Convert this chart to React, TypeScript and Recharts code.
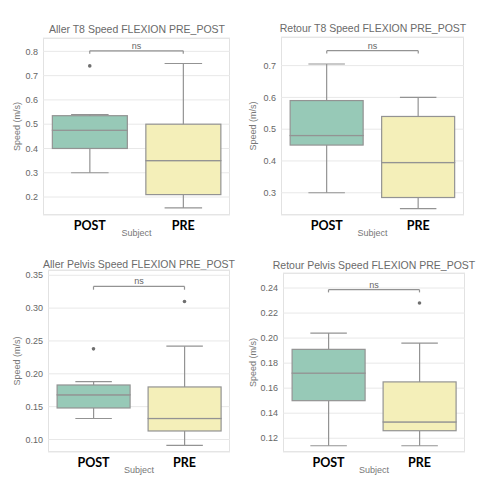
import React from 'react';
import { ComposedChart, Bar, Line, XAxis, YAxis, CartesianGrid, ReferenceLine } from 'recharts';

const subjects = ['POST', 'PRE'];

// Aller T8
const allerT8Low = [0.3, 0.155];
const allerT8Q1 = [0.4, 0.21];
const allerT8Median = [0.475, 0.35];
const allerT8Q3 = [0.535, 0.5];
const allerT8High = [0.54, 0.75];
const allerT8Outliers = [0.74, null];
const allerT8Ticks = [0.2, 0.3, 0.4, 0.5, 0.6, 0.7, 0.8];

// Retour T8
const retourT8Low = [0.3, 0.25];
const retourT8Q1 = [0.45, 0.285];
const retourT8Median = [0.48, 0.395];
const retourT8Q3 = [0.59, 0.54];
const retourT8High = [0.705, 0.6];
const retourT8Outliers = [null, null];
const retourT8Ticks = [0.3, 0.4, 0.5, 0.6, 0.7];

// Aller Pelvis
const allerPelvisLow = [0.132, 0.091];
const allerPelvisQ1 = [0.148, 0.113];
const allerPelvisMedian = [0.168, 0.132];
const allerPelvisQ3 = [0.183, 0.18];
const allerPelvisHigh = [0.188, 0.242];
const allerPelvisOutliers = [0.238, 0.31];
const allerPelvisTicks = [0.1, 0.15, 0.2, 0.25, 0.3, 0.35];

// Retour Pelvis
const retourPelvisLow = [0.114, 0.114];
const retourPelvisQ1 = [0.15, 0.126];
const retourPelvisMedian = [0.172, 0.133];
const retourPelvisQ3 = [0.191, 0.165];
const retourPelvisHigh = [0.204, 0.196];
const retourPelvisOutliers = [null, 0.228];
const retourPelvisTicks = [0.12, 0.14, 0.16, 0.18, 0.2, 0.22, 0.24];

const FILLS: Record<string, string> = { POST: '#97c9b7', PRE: '#f4efb9' };
const EDGE = '#939393';
const FONT = '"Liberation Sans", Arial, sans-serif';

function makeRows(low: number[], q1: number[], med: number[], q3: number[], high: number[], out: (number | null)[]) {
  return subjects.map((s, i) => ({
    subject: s,
    base: low[i],
    lowW: q1[i] - low[i],
    boxLo: med[i] - q1[i],
    boxHi: q3[i] - med[i],
    highW: high[i] - q3[i],
    outlier: out[i],
  }));
}

const Empty = () => <g />;

const LowWhisker = (p: any) => {
  const cx = p.x + p.width / 2;
  const cap = p.width / 4;
  const yb = p.y + p.height;
  return (
    <g>
      <line x1={cx} x2={cx} y1={p.y} y2={yb} stroke={EDGE} strokeWidth={1.2} />
      <line x1={cx - cap} x2={cx + cap} y1={yb} y2={yb} stroke={EDGE} strokeWidth={1.2} />
    </g>
  );
};

const HighWhisker = (p: any) => {
  const cx = p.x + p.width / 2;
  const cap = p.width / 4;
  return (
    <g>
      <line x1={cx} x2={cx} y1={p.y} y2={p.y + p.height} stroke={EDGE} strokeWidth={1.2} />
      <line x1={cx - cap} x2={cx + cap} y1={p.y} y2={p.y} stroke={EDGE} strokeWidth={1.2} />
    </g>
  );
};

const BoxPart = (p: any) => (
  <rect x={p.x} y={p.y} width={p.width} height={p.height} fill={FILLS[p.payload.subject]} stroke={EDGE} strokeWidth={1.2} />
);

const Outlier = (p: any) => {
  if (p.payload == null || p.payload.outlier == null || p.cy == null) return <g key={p.index} />;
  return <circle key={p.index} cx={p.cx} cy={p.cy} r={1.8} fill="#6f6f6f" />;
};

interface PanelProps {
  title: string;
  rows: any[];
  domain: [number, number];
  ticks: number[];
  decimals: number;
  bracket: number;
  drop: number;
  box: { ox: number; oy: number; w: number; h: number };
  plot: { x: number; y: number; r: number; b: number };
  titleAt: { x: number; y: number };
  labelOffset: number;
}

function Panel({ title, rows, domain, ticks, decimals, bracket, drop, box, plot, titleAt, labelOffset }: PanelProps) {
  const axisW = 36;
  const xH = 26;
  const margin = {
    top: plot.y - box.oy,
    bottom: box.oy + box.h - plot.b - xH,
    left: plot.x - box.ox - axisW,
    right: box.ox + box.w - plot.r,
  };
  return (
    <>
      <div
        style={{
          position: 'absolute',
          left: plot.x,
          top: plot.y,
          width: plot.r - plot.x,
          height: plot.b - plot.y,
          border: '1px solid #e2e2e2',
          boxSizing: 'border-box',
        }}
      />
      <div
        style={{
          position: 'absolute',
          left: titleAt.x,
          top: titleAt.y - 6,
          transform: 'translateX(-50%)',
          whiteSpace: 'nowrap',
          fontFamily: FONT,
          fontSize: 10.5,
          lineHeight: '12px',
          color: '#6a6a6a',
        }}
      >
        {title}
      </div>
      <div style={{ position: 'absolute', left: box.ox, top: box.oy }}>
        <ComposedChart width={box.w} height={box.h} data={rows} margin={margin} barCategoryGap="10%">
          <CartesianGrid vertical={false} stroke="#e8e8e8" strokeWidth={1} />
          <XAxis
            dataKey="subject"
            axisLine={false}
            tickLine={false}
            tickSize={0}
            tickMargin={6}
            height={xH}
            tick={{ fontSize: 12.5, fontWeight: 700, fill: '#000', fontFamily: 'Lato, sans-serif' }}
            label={{ value: 'Subject', position: 'insideBottom', offset: 5, fontSize: 9, fill: '#777', fontFamily: FONT }}
          />
          <YAxis
            type="number"
            domain={domain}
            ticks={ticks}
            allowDataOverflow
            axisLine={false}
            tickLine={false}
            tickSize={0}
            tickMargin={5}
            width={axisW}
            tickFormatter={(v: number) => v.toFixed(decimals)}
            tick={{ fontSize: 9, fill: '#666', fontFamily: FONT }}
            label={{
              value: 'Speed (m/s)',
              angle: -90,
              position: 'insideLeft',
              offset: labelOffset,
              fontSize: 9,
              fill: '#777',
              fontFamily: FONT,
              style: { textAnchor: 'middle' },
            }}
          />
          <Bar dataKey="base" stackId="b" shape={Empty} isAnimationActive={false} />
          <Bar dataKey="lowW" stackId="b" shape={LowWhisker} isAnimationActive={false} />
          <Bar dataKey="boxLo" stackId="b" shape={BoxPart} isAnimationActive={false} />
          <Bar dataKey="boxHi" stackId="b" shape={BoxPart} isAnimationActive={false} />
          <Bar dataKey="highW" stackId="b" shape={HighWhisker} isAnimationActive={false} />
          <Line dataKey="outlier" stroke="none" dot={Outlier} activeDot={false} isAnimationActive={false} />
          <ReferenceLine
            segment={[{ x: 'POST', y: bracket }, { x: 'PRE', y: bracket }]}
            stroke={EDGE}
            strokeWidth={1.2}
            ifOverflow="visible"
            label={{ value: 'ns', position: 'top', offset: 2, fontSize: 9, fill: '#666', fontFamily: FONT }}
          />
          <ReferenceLine segment={[{ x: 'POST', y: bracket }, { x: 'POST', y: bracket - drop }]} stroke={EDGE} strokeWidth={1.2} ifOverflow="visible" />
          <ReferenceLine segment={[{ x: 'PRE', y: bracket }, { x: 'PRE', y: bracket - drop }]} stroke={EDGE} strokeWidth={1.2} ifOverflow="visible" />
        </ComposedChart>
      </div>
    </>
  );
}

export default function App() {
  return (
    <div style={{ position: 'absolute', left: 0, top: 0, width: 478, height: 493, background: '#fff', overflow: 'hidden' }}>
      <Panel
        title="Aller T8 Speed FLEXION PRE_POST"
        rows={makeRows(allerT8Low, allerT8Q1, allerT8Median, allerT8Q3, allerT8High, allerT8Outliers)}
        domain={[0.126, 0.855]}
        ticks={allerT8Ticks}
        decimals={1}
        bracket={0.802}
        drop={0.012}
        box={{ ox: 0, oy: 0, w: 239, h: 250 }}
        plot={{ x: 43, y: 38, r: 230, b: 215 }}
        titleAt={{ x: 137, y: 29 }}
        labelOffset={10}
      />
      <Panel
        title="Retour T8 Speed FLEXION PRE_POST"
        rows={makeRows(retourT8Low, retourT8Q1, retourT8Median, retourT8Q3, retourT8High, retourT8Outliers)}
        domain={[0.23, 0.79]}
        ticks={retourT8Ticks}
        decimals={1}
        bracket={0.747}
        drop={0.009}
        box={{ ox: 239, oy: 0, w: 239, h: 250 }}
        plot={{ x: 281, y: 37, r: 464, b: 215 }}
        titleAt={{ x: 373, y: 28 }}
        labelOffset={8}
      />
      <Panel
        title="Aller Pelvis Speed FLEXION PRE_POST"
        rows={makeRows(allerPelvisLow, allerPelvisQ1, allerPelvisMedian, allerPelvisQ3, allerPelvisHigh, allerPelvisOutliers)}
        domain={[0.081, 0.358]}
        ticks={allerPelvisTicks}
        decimals={2}
        bracket={0.333}
        drop={0.005}
        box={{ ox: 0, oy: 250, w: 239, h: 243 }}
        plot={{ x: 48, y: 270, r: 230, b: 452 }}
        titleAt={{ x: 139, y: 264 }}
        labelOffset={5}
      />
      <Panel
        title="Retour Pelvis Speed FLEXION PRE_POST"
        rows={makeRows(retourPelvisLow, retourPelvisQ1, retourPelvisMedian, retourPelvisQ3, retourPelvisHigh, retourPelvisOutliers)}
        domain={[0.109, 0.252]}
        ticks={retourPelvisTicks}
        decimals={2}
        bracket={0.2387}
        drop={0.0022}
        box={{ ox: 239, oy: 250, w: 239, h: 243 }}
        plot={{ x: 283, y: 273, r: 465, b: 452 }}
        titleAt={{ x: 374, y: 265 }}
        labelOffset={6}
      />
    </div>
  );
}
